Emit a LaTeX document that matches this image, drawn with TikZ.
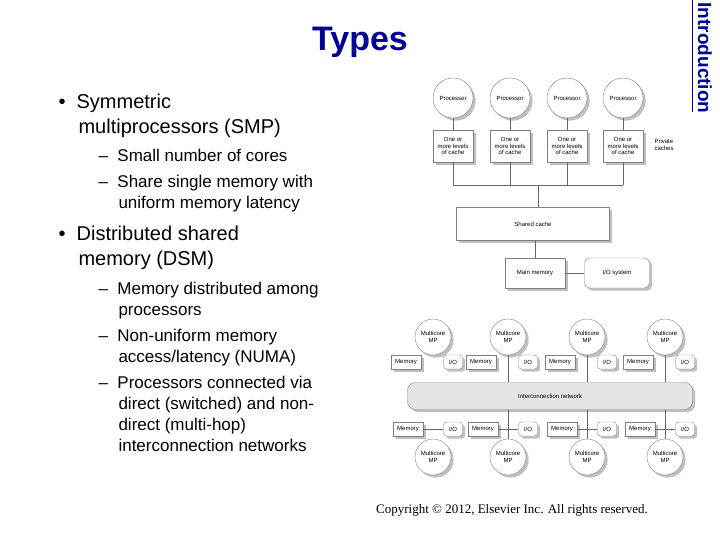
\documentclass[tikz,border=0pt]{standalone}
\usepackage{fontspec}
\setmainfont{Liberation Sans}
\newfontfamily\timesfont{Liberation Serif}
\definecolor{slideblue}{RGB}{0,0,153}
\tikzset{proc/.style = {circle, draw=gray, fill=white, minimum size=#1, inner sep=0pt, align=center,
                        font=\fontsize{6}{6.5}\selectfont, drop shadow},
         proc/.default=40pt,
         unit/.style = {rectangle, draw=gray, fill=white, inner sep=1pt, align=center,
                        font=\fontsize{6}{6.5}\selectfont, drop shadow},
         wire/.style = {draw=gray!80!black, line width=0.6pt},
         bullet/.style = {anchor=north west, align=left, font=\fontsize{20}{25}\selectfont},
         subbullet/.style = {anchor=north west, align=left, font=\fontsize{17}{21}\selectfont}
        }
\usetikzlibrary{shadows}
\begin{document}
\begin{tikzpicture}[x=1pt, y=-1pt]
  \useasboundingbox (0,0) rectangle (720,540);
  % title and side tab
  \node[font=\bfseries\fontsize{34}{36}\selectfont, text=slideblue] (title) at (360,42) {Types};
  \node[font=\bfseries\fontsize{19}{20}\selectfont, text=slideblue, rotate=-90] (tab) at (705,58) {Introduction};
  \coordinate (tabtop) at (692,0);
  \coordinate (tabbot) at (692,112);
  \draw[slideblue] (tabtop) -- (tabbot);
  % text
  \node[bullet] (b1) at (55,90) {\textbullet\ \ Symmetric\\\hspace{20pt}multiprocessors (SMP)};
  \node[subbullet] (s1) at (95,146) {-- \ Small number of cores\\[5pt]-- \ Share single memory with\\\hspace{20pt}uniform memory latency};
  \node[bullet] (b2) at (55,222) {\textbullet\ \ Distributed shared\\\hspace{20pt}memory (DSM)};
  \node[subbullet] (s2) at (95,279) {-- \ Memory distributed among\\\hspace{20pt}processors\\[5pt]-- \ Non-uniform memory\\\hspace{20pt}access/latency (NUMA)\\[5pt]-- \ Processors connected via\\\hspace{20pt}direct (switched) and non-\\\hspace{20pt}direct (multi-hop)\\\hspace{20pt}interconnection networks};
  \node[font=\timesfont\fontsize{13}{15}\selectfont] (copy) at (512,510) {Copyright \textcopyright\ 2012, Elsevier Inc. All rights reserved.};
  % SMP
  \coordinate (bus) at (538,185);
  \foreach \i/\x in {1/453,2/510,3/567,4/623} {
    \node[proc] (p\i) at (\x,98) {Processor};
    \node[unit, minimum width=40pt, minimum height=32pt] (c\i) at (\x,146) {One or\\more levels\\of cache};
    \draw[wire] (p\i) -- (c\i);
    \coordinate (k\i) at (\x,185);
    \draw[wire] (c\i) -- (k\i);
  }
  \draw[wire] (k1) -- (k4);
  \node[font=\fontsize{6}{6.5}\selectfont, align=left] (priv) at (664,145) {Private\\caches};
  \node[unit, minimum width=153pt, minimum height=33pt] (shared) at (533,224) {Shared cache};
  \draw[wire] (bus) -- (shared.north -| bus);
  \node[unit, minimum width=60pt, minimum height=30pt] (mem) at (535,273) {Main memory};
  \node[unit, rounded corners=5pt, minimum width=65pt, minimum height=30pt] (io) at (617,273) {I/O system};
  \draw[wire] (shared.south -| mem) -- (mem);
  \draw[wire] (mem) -- (io);
  % DSM
  \node[unit, rounded corners=8pt, fill=gray!20, minimum width=285pt, minimum height=27pt] (net) at (550,396) {Interconnection network};
  \foreach \i/\x in {1/433,2/508,3/587,4/665} {
    \node[proc=36pt] (tm\i) at (\x,337) {Multicore\\MP};
    \node[unit, minimum width=30pt, minimum height=14pt] (tmem\i) at (\x-27,362) {Memory};
    \node[unit, rounded corners=3pt, minimum width=19pt, minimum height=14pt] (tio\i) at (\x+20,362) {I/O};
    \node[proc=36pt] (bm\i) at (\x,457) {Multicore\\MP};
    \node[unit, minimum width=30pt, minimum height=14pt] (bmem\i) at (\x-25,429) {Memory};
    \node[unit, rounded corners=3pt, minimum width=19pt, minimum height=14pt] (bio\i) at (\x+20,429) {I/O};
    \draw[wire] (bmem\i) -- (bio\i);
  }
  \foreach \i in {2,3,4} {
    \draw[wire] (tm\i) -- (net.north -| tm\i);
    \draw[wire] (net.south -| bm\i) -- (bm\i);
  }
\end{tikzpicture}
\end{document}
